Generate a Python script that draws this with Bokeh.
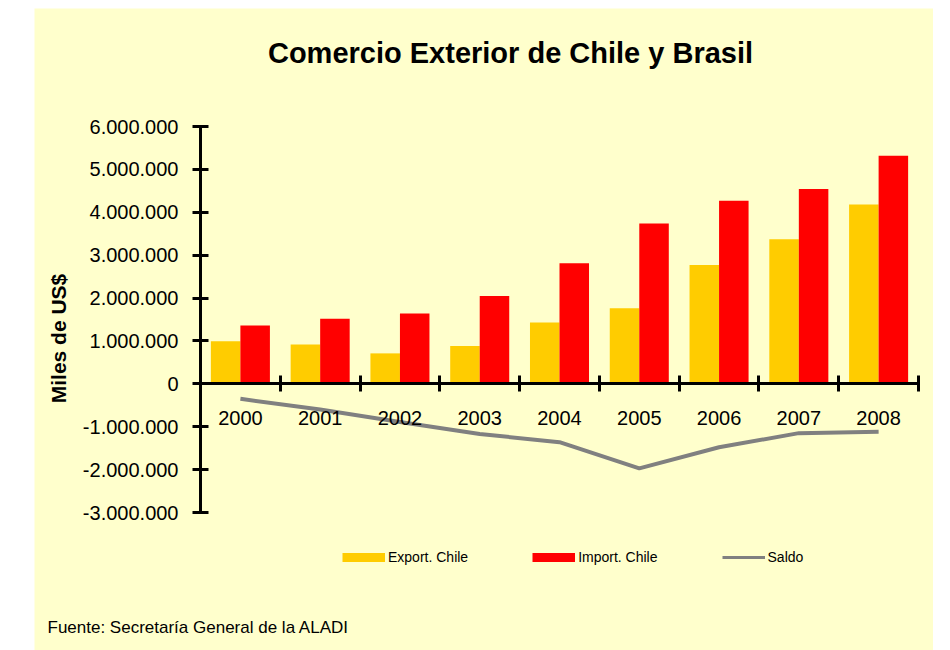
import math
from bokeh.plotting import figure
from bokeh.models import FixedTicker, Label, Legend, LegendItem, Range1d
from bokeh.embed import file_html
from bokeh.resources import INLINE

years = ["2000", "2001", "2002", "2003", "2004", "2005", "2006", "2007", "2008"]
export_chile = [990000, 920000, 710000, 880000, 1430000, 1760000, 2770000, 3370000, 4180000]
import_chile = [1360000, 1520000, 1640000, 2050000, 2810000, 3740000, 4270000, 4540000, 5320000]
saldo = [-350000, -600000, -890000, -1170000, -1360000, -1970000, -1480000, -1150000, -1120000]
y_tick_values = [-3000000, -2000000, -1000000, 0, 1000000, 2000000, 3000000, 4000000, 5000000, 6000000]
y_tick_labels = ["-3.000.000", "-2.000.000", "-1.000.000", "0", "1.000.000", "2.000.000",
                 "3.000.000", "4.000.000", "5.000.000", "6.000.000"]

FONT = "Liberation Sans"
BG = "#FFFFCC"
W, H = 899, 642

n = len(years)
centers = [i + 0.5 for i in range(n)]
bounds = [i for i in range(n + 1)]

# plot area: axes span x 0..n over 718 px (starting 166 px from the left edge),
# y -3M..6M over 386 px (starting 118 px from the top)
px_x = 718 / n
px_y = 386 / 9000000
x_start = -166 / px_x
x_end = x_start + W / px_x
y_end = 6000000 + 118 / px_y
y_start = y_end - H / px_y

p = figure(width=W, height=H,
           x_range=Range1d(x_start, x_end), y_range=Range1d(y_start, y_end),
           output_backend="svg", toolbar_location=None,
           min_border=0, min_border_left=0, min_border_right=0,
           min_border_top=0, min_border_bottom=0,
           background_fill_color=BG, border_fill_color=BG, outline_line_color=None)
p.margin = (8, 0, 0, 34)
p.grid.visible = False

p.vbar(x=[c - 0.185 for c in centers], top=export_chile, bottom=0, width=0.37,
       fill_color="#FFCC00", line_color=None)
p.vbar(x=[c + 0.185 for c in centers], top=import_chile, bottom=0, width=0.37,
       fill_color="#FF0000", line_color=None)
r_saldo = p.line(x=centers, y=saldo, line_color="#808080", line_width=4, line_join="round")

# legend-only swatches (no visible data)
nan = float("nan")
leg_exp = p.line(x=[nan], y=[nan], line_color="#FFCC00", line_width=9)
leg_imp = p.line(x=[nan], y=[nan], line_color="#FF0000", line_width=9)
leg_sal = p.line(x=[nan], y=[nan], line_color="#808080", line_width=3)

# y axis at x = 0
ya = p.yaxis[0]
ya.fixed_location = 0
ya.bounds = (y_tick_values[0], y_tick_values[-1])
ya.ticker = FixedTicker(ticks=y_tick_values, minor_ticks=[])
ya.major_label_overrides = {v: l for v, l in zip(y_tick_values, y_tick_labels)}
ya.axis_line_width = 3
ya.axis_line_color = "black"
ya.major_tick_line_width = 3
ya.major_tick_line_color = "black"
ya.major_tick_in = 8
ya.major_tick_out = 8
ya.minor_tick_line_color = None
ya.major_label_standoff = 14
ya.major_label_text_font = FONT
ya.major_label_text_font_size = "20px"
ya.major_label_text_color = "black"

# x axis at y = 0
xa = p.xaxis[0]
xa.fixed_location = 0
xa.bounds = (0, n)
xa.ticker = FixedTicker(ticks=centers, minor_ticks=bounds)
xa.major_label_overrides = {c: y for c, y in zip(centers, years)}
xa.axis_line_width = 3
xa.axis_line_color = "black"
xa.major_tick_in = 0
xa.major_tick_out = 0
xa.major_tick_line_color = None
xa.minor_tick_in = 8
xa.minor_tick_out = 8
xa.minor_tick_line_width = 3
xa.minor_tick_line_color = "black"
xa.major_label_standoff = 19
xa.major_label_text_font = FONT
xa.major_label_text_font_size = "20px"
xa.major_label_text_color = "black"

legend = Legend(items=[LegendItem(label="Export. Chile", renderers=[leg_exp]),
                       LegendItem(label="Import. Chile", renderers=[leg_imp]),
                       LegendItem(label="Saldo", renderers=[leg_sal])],
                orientation="horizontal", location=(308, 85),
                glyph_width=43, glyph_height=16, label_height=16, label_standoff=3,
                spacing=64, padding=0, margin=0, border_line_color=None,
                background_fill_alpha=0, label_text_font=FONT, label_text_font_size="14px",
                label_text_color="black")
p.add_layout(legend)

p.add_layout(Label(x=476, y=H - 44, x_units="screen", y_units="screen",
                   text="Comercio Exterior de Chile y Brasil", text_align="center",
                   text_baseline="middle", text_font=FONT, text_font_style="bold",
                   text_font_size="29px", text_color="black"))
p.add_layout(Label(x=24, y=H - 330, x_units="screen", y_units="screen", angle=math.pi / 2,
                   text="Miles de US$", text_align="center", text_baseline="middle",
                   text_font=FONT, text_font_style="bold", text_font_size="21px",
                   text_color="black"))
p.add_layout(Label(x=13, y=23, x_units="screen", y_units="screen",
                   text="Fuente: Secretaría General de la ALADI", text_align="left",
                   text_baseline="middle", text_font=FONT, text_font_size="17px",
                   text_color="black"))

open("out.html", "w").write(file_html(p, INLINE))
